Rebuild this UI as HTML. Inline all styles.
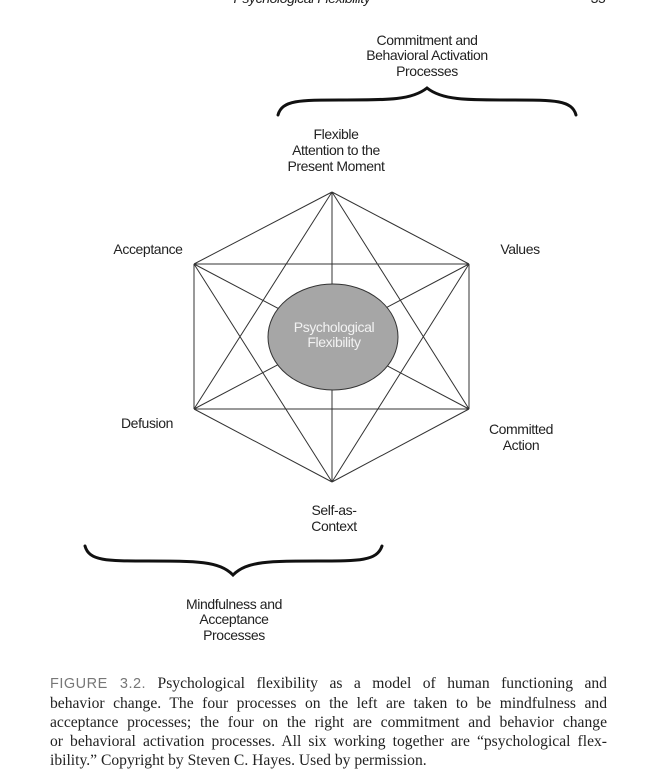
<!DOCTYPE html>
<html><head><meta charset="utf-8"><style>
html,body{margin:0;padding:0;background:#fff;width:654px;height:779px;overflow:hidden;position:relative}
svg{position:absolute;left:0;top:0}
.cap{position:absolute;left:50px;top:674px;width:557px;font-family:"Liberation Serif",serif;font-size:15.6px;line-height:19px;color:#222}
.cap div{text-align:justify;text-align-last:justify;white-space:nowrap}
.cap div.last{text-align-last:left}
.cap span{font-family:"Liberation Sans",sans-serif;color:#777;font-size:14.5px;letter-spacing:0.5px}
</style></head><body>
<svg width="654" height="779" viewBox="0 0 654 779" font-family="Liberation Sans, sans-serif" font-size="14" fill="#222" text-anchor="middle" letter-spacing="-0.4">
<text x="302" y="3" font-style="italic" font-size="14">Psychological Flexibility</text>
<text x="598" y="3" font-size="14">35</text>
<g stroke="#333" stroke-width="1" fill="none">
<path d="M332,192 L194,264 M332,192 L469,264 M332,192 L194,409 M332,192 L469,409 M332,192 L332,482 M194,264 L469,264 M194,264 L194,409 M194,264 L469,409 M194,264 L332,482 M469,264 L194,409 M469,264 L469,409 M469,264 L332,482 M194,409 L469,409 M194,409 L332,482 M469,409 L332,482"/>
</g>
<ellipse cx="333" cy="337" rx="65" ry="53" fill="#a6a6a6" stroke="#333" stroke-width="1"/>
<text x="334" y="332" fill="#f2f2f2">Psychological</text>
<text x="334" y="347" fill="#f2f2f2">Flexibility</text>
<g stroke="#111" stroke-width="3" fill="none" stroke-linecap="round">
<path d="M278,115 C282,100 300,100 340,100 C390,100 412,100 427,88 C442,100 464,100 514,100 C554,100 572,100 576,115"/>
<path d="M85,546 C89,561 107,561 147,561 C197,561 219,561 233,575 C247,561 269,561 319,561 C359,561 377,561 382,546"/>
</g>
<text x="427" y="45">Commitment and</text>
<text x="427" y="60">Behavioral Activation</text>
<text x="427" y="76">Processes</text>
<text x="336" y="139">Flexible</text>
<text x="336" y="155">Attention to the</text>
<text x="336" y="171">Present Moment</text>
<text x="148" y="254">Acceptance</text>
<text x="520" y="254">Values</text>
<text x="147" y="428">Defusion</text>
<text x="521" y="434">Committed</text>
<text x="521" y="450">Action</text>
<text x="334" y="515">Self-as-</text>
<text x="334" y="531">Context</text>
<text x="234" y="609">Mindfulness and</text>
<text x="234" y="624">Acceptance</text>
<text x="234" y="640">Processes</text>
</svg>
<div class="cap">
<div><span>FIGURE 3.2.</span> Psychological flexibility as a model of human functioning and</div>
<div>behavior change. The four processes on the left are taken to be mindfulness and</div>
<div>acceptance processes; the four on the right are commitment and behavior change</div>
<div>or behavioral activation processes. All six working together are “psychological flex-</div>
<div class="last">ibility.” Copyright by Steven C. Hayes. Used by permission.</div>
</div>
</body></html>
